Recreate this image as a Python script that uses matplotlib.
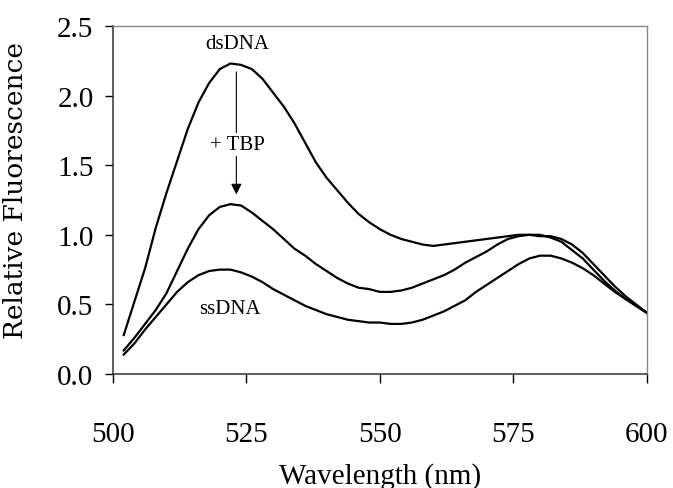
import numpy as np
import matplotlib
matplotlib.use("Agg")
import matplotlib.pyplot as plt

# wavelength grid (nm) and the three emission spectra
wavelength = np.arange(502, 601, 2)

ds_dna = [0.28, 0.52, 0.76, 1.05, 1.30, 1.53, 1.76, 1.95, 2.09, 2.19,
          2.23, 2.22, 2.19, 2.12, 2.02, 1.92, 1.80, 1.66, 1.52, 1.41,
          1.32, 1.23, 1.15, 1.09, 1.04, 1.00, 0.97, 0.95, 0.93, 0.92,
          0.93, 0.94, 0.95, 0.96, 0.97, 0.98, 0.99, 1.00, 1.00, 0.99,
          0.99, 0.97, 0.93, 0.87, 0.79, 0.71, 0.63, 0.56, 0.50, 0.44]

ds_tbp = [0.17, 0.26, 0.36, 0.46, 0.58, 0.74, 0.90, 1.04, 1.14, 1.20,
          1.22, 1.21, 1.16, 1.10, 1.04, 0.97, 0.90, 0.85, 0.79, 0.74,
          0.69, 0.65, 0.62, 0.61, 0.59, 0.59, 0.60, 0.62, 0.65, 0.68,
          0.71, 0.75, 0.80, 0.84, 0.88, 0.93, 0.97, 0.99, 1.00, 1.00,
          0.98, 0.95, 0.89, 0.83, 0.75, 0.67, 0.60, 0.54, 0.49, 0.44]

ss_dna = [0.14, 0.22, 0.32, 0.41, 0.50, 0.59, 0.66, 0.71, 0.74, 0.75,
          0.75, 0.73, 0.70, 0.66, 0.61, 0.57, 0.53, 0.49, 0.46, 0.43,
          0.41, 0.39, 0.38, 0.37, 0.37, 0.36, 0.36, 0.37, 0.39, 0.42,
          0.45, 0.49, 0.53, 0.59, 0.64, 0.69, 0.74, 0.79, 0.83, 0.85,
          0.85, 0.83, 0.80, 0.76, 0.71, 0.65, 0.59, 0.54, 0.49, 0.44]

x_ticks = [500, 525, 550, 575, 600]
y_ticks = [0.0, 0.5, 1.0, 1.5, 2.0, 2.5]

plt.rcParams['font.family'] = ['Liberation Serif', 'DejaVu Serif']

fig = plt.figure(figsize=(6.73, 4.89), dpi=100)
ax = fig.add_axes([0.168, 0.233, 0.793, 0.712])

for series in (ds_dna, ds_tbp, ss_dna):
    ax.plot(wavelength, series, color='black', linewidth=1.6)

ax.set_xlim(500, 600)
ax.set_ylim(0, 2.5)
ax.set_xticks(x_ticks)
ax.set_yticks(y_ticks)
ax.set_yticklabels([f"{v:.1f}" for v in y_ticks])

ax.tick_params(axis='x', direction='out', length=6.5, width=1, labelsize=21, pad=27)
ax.tick_params(axis='y', direction='out', length=6, width=1, labelsize=21, pad=8)

for side in ('left', 'bottom'):
    ax.spines[side].set_color('#333333')
    ax.spines[side].set_linewidth(1.1)
for side in ('top', 'right'):
    ax.spines[side].set_color('#888888')
    ax.spines[side].set_linewidth(1.0)

ax.set_xlabel('Wavelength (nm)', fontsize=21, va='top')
ax.xaxis.set_label_coords(0.5, -0.252)
ax.set_ylabel('Relative Fluorescence', fontsize=19, family='DejaVu Serif')
ax.yaxis.set_label_coords(-0.16, 0.53)

# labels and the dsDNA -> +TBP arrow
ax.text(523.3, 2.37, 'dsDNA', fontsize=15, ha='center', va='center')
ax.text(521.9, 0.47, 'ssDNA', fontsize=15, ha='center', va='center')
ax.annotate('', xy=(523.1, 1.29), xytext=(523.1, 2.17),
            arrowprops=dict(arrowstyle='-|>', color='black', lw=0.8,
                            mutation_scale=16, shrinkA=0, shrinkB=0))
ax.text(523.3, 1.65, '+ TBP', fontsize=15, ha='center', va='center',
        bbox=dict(facecolor='white', edgecolor='none', pad=1.5))

fig.savefig('out.png', dpi=100)
